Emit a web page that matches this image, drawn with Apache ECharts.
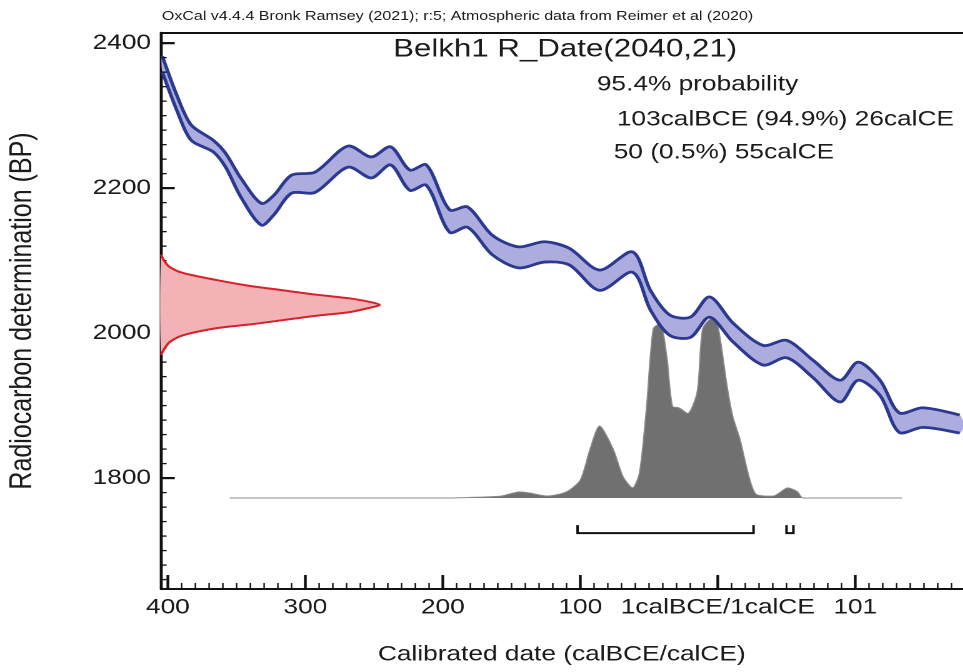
<!DOCTYPE html>
<html>
<head>
<meta charset="utf-8">
<script src="https://cdn.jsdelivr.net/npm/echarts@6/dist/echarts.min.js"></script>
<style>
html, body { margin: 0; padding: 0; background: #fff; overflow: hidden; }
/* the original plot is stretched sideways, so draw narrow and scale the box */
#chart { width: 770.4px; height: 672px; transform: scaleX(1.25); transform-origin: 0 0; }
</style>
</head>
<body>
<div id="chart"></div>
<script>
// x = years from the 1calBCE/1calCE boundary (negative = BCE)
const calYears = [-404, -393, -383, -367, -358, -347, -332, -323, -310, -293, -269, -252, -238, -224, -212, -195, -182, -164, -145, -126, -108, -86, -62, -49, -35, -20, -6, 11, 33, 50, 69, 89, 102, 118, 132, 149, 176];
const calUpper = [2382, 2326, 2287, 2266, 2248, 2214, 2179, 2190, 2218, 2222, 2258, 2243, 2257, 2225, 2232, 2170, 2174, 2135, 2119, 2126, 2117, 2087, 2112, 2059, 2025, 2022, 2050, 2014, 1983, 1990, 1963, 1935, 1960, 1935, 1890, 1897, 1887];
const calLower = [2360, 2305, 2266, 2250, 2229, 2188, 2149, 2163, 2193, 2194, 2229, 2214, 2232, 2197, 2204, 2139, 2146, 2108, 2090, 2098, 2094, 2059, 2084, 2032, 1997, 1994, 2022, 1988, 1956, 1966, 1939, 1905, 1935, 1914, 1863, 1870, 1862];

// radiocarbon date 2040±21 drawn off the y axis (width in years)
const dateBP    = [2108, 2098, 2091, 2083, 2073, 2065, 2059, 2053, 2048, 2043, 2039, 2035, 2029, 2024, 2018, 2012, 2007, 1997, 1988, 1980, 1970];
const dateWidth = [0, 3, 6.5, 16, 41, 65, 89, 113, 137, 152, 159, 152, 137, 113, 89, 65, 41, 16, 6.5, 3, 0];

// calibrated probability (relative)
const probYears  = [-355, -195, -173, -158, -144, -137, -124, -110, -100, -93, -86, -76, -69, -62, -57, -52, -47, -42, -37, -33, -28, -22, -15, -11, -4, 0, 7, 11, 16, 23, 28, 40, 51, 58, 62, 134];
const probValues = [0, 0, 0.005, 0.01, 0.034, 0.028, 0.011, 0.034, 0.10, 0.27, 0.40, 0.27, 0.12, 0.056, 0.14, 0.49, 0.94, 0.97, 0.78, 0.51, 0.50, 0.47, 0.59, 0.94, 1.0, 0.96, 0.61, 0.45, 0.33, 0.11, 0.02, 0.01, 0.056, 0.034, 0, 0];

// 95.4% ranges
const hpdRanges = [[-102, 26], [50, 55]];
const hpdLevel = 1724;

const xMin = -405, xMax = 178;
const yMin = 1647, yMax = 2414;
const xTicks = [-400, -300, -200, -100, 0, 100];
const yTicks = [1800, 2000, 2200, 2400];
const xMinorTicks = [];
for (let v = -400; v <= 170; v += 10) xMinorTicks.push(v);
const yMinorTicks = [];
for (let v = 1660; v <= 2400; v += 20) yMinorTicks.push(v);

const headerText = 'OxCal v4.4.4 Bronk Ramsey (2021); r:5; Atmospheric data from Reimer et al (2020)';
const titleText = 'Belkh1 R_Date(2040,21)';
const rangeLines = ['95.4% probability', '103calBCE (94.9%) 26calCE', '50 (0.5%) 55calCE'];

const FONT = 'Liberation Sans, Arial, sans-serif';
const INK = '#1b1b1b';
const CURVE = '#2b3a90';

function xLabel(v) {
    if (v < 0) return String(-v);
    if (v === 0) return '1calBCE/1calCE';
    return String(v + 1);
}

// inward axis ticks, placed through the axes (major ones longer and heavier)
function tickElements(api) {
    const out = [];
    xMinorTicks.forEach(v => {
        const p = api.coord([v, yMin]);
        const major = xTicks.indexOf(v) >= 0;
        out.push({
            type: 'polyline',
            shape: { points: [[p[0], p[1] - 1], [p[0], p[1] - (major ? 14 : 6)]] },
            style: { stroke: '#111', lineWidth: major ? 2.2 : 1.2, fill: null }
        });
    });
    yMinorTicks.forEach(v => {
        const p = api.coord([xMin, v]);
        const major = yTicks.indexOf(v) >= 0;
        out.push({
            type: 'polyline',
            shape: { points: [[p[0] + 1, p[1]], [p[0] + (major ? 11 : 4.5), p[1]]] },
            style: { stroke: '#111', lineWidth: major ? 2.2 : 1.3, fill: null }
        });
    });
    return out;
}

function renderCurve(params, api) {
    const top = calYears.map((x, i) => api.coord([x, calUpper[i]]));
    const bottom = calYears.map((x, i) => api.coord([x, calLower[i]]));
    return {
        type: 'group',
        children: [
            { type: 'polygon', shape: { points: top.concat(bottom.slice().reverse()), smooth: 0.3 },
              style: { fill: '#acacdf' } },
            { type: 'polyline', shape: { points: top, smooth: 0.3 },
              style: { stroke: CURVE, lineWidth: 2.8, fill: null } },
            { type: 'polyline', shape: { points: bottom, smooth: 0.3 },
              style: { stroke: CURVE, lineWidth: 2.8, fill: null } }
        ].concat(tickElements(api))
    };
}

function renderDate(params, api) {
    const edge = dateBP.map((bp, i) => api.coord([xMin + dateWidth[i], bp]));
    return {
        type: 'group',
        children: [
            { type: 'polygon', shape: { points: edge, smooth: 0.3 }, style: { fill: '#f3b2b6' } },
            { type: 'polyline', shape: { points: edge, smooth: 0.3 },
              style: { stroke: '#d6202a', lineWidth: 2, fill: null } }
        ]
    };
}

function renderRange(params, api) {
    const a = api.coord([api.value(0), api.value(2)]);
    const b = api.coord([api.value(1), api.value(2)]);
    return {
        type: 'polyline',
        shape: { points: [[a[0], a[1] - 8], a, b, [b[0], b[1] - 8]] },
        style: { stroke: '#111', lineWidth: 2, fill: null }
    };
}

const chart = echarts.init(document.getElementById('chart'), null, { renderer: 'canvas', devicePixelRatio: 2 });

const titles = [
    { text: headerText, left: 129.5, top: 10, size: 12.8 },
    { text: titleText, left: 314.5, top: 37, size: 25 },
    { text: rangeLines[0], left: 477.5, top: 74, size: 21 },
    { text: rangeLines[1], left: 493.5, top: 109, size: 21 },
    { text: rangeLines[2], left: 491, top: 142, size: 21 }
].map(t => ({
    text: t.text, left: t.left, top: t.top, padding: 0,
    textStyle: { fontSize: t.size, fontWeight: 'normal', color: INK, fontFamily: FONT }
}));

const option = {
    animation: false,
    backgroundColor: '#fff',
    title: titles,
    grid: { left: 128.8, right: 0, top: 33, bottom: 83, outerBoundsMode: 'none' },
    xAxis: [
        {
            type: 'value', min: xMin, max: xMax, position: 'bottom',
            axisLine: { show: true, onZero: false, lineStyle: { color: '#111', width: 2 } },
            axisTick: { show: false },
            axisLabel: { customValues: xTicks, formatter: xLabel, fontSize: 21, color: INK, fontFamily: FONT, margin: 8 },
            splitLine: { show: false },
            name: 'Calibrated date (calBCE/calCE)', nameLocation: 'middle', nameGap: 55,
            nameTextStyle: { fontSize: 21, color: INK, fontFamily: FONT }
        },
        {
            type: 'value', min: xMin, max: xMax, position: 'top',
            axisLine: { show: true, onZero: false, lineStyle: { color: '#111', width: 2 } },
            axisTick: { show: false }, axisLabel: { show: false }, splitLine: { show: false }
        }
    ],
    yAxis: [
        {
            type: 'value', min: yMin, max: yMax, position: 'left',
            axisLine: { show: true, onZero: false, lineStyle: { color: '#111', width: 2.4 } },
            axisTick: { show: false },
            axisLabel: { customValues: yTicks, formatter: v => String(v), fontSize: 21, color: INK, fontFamily: FONT, margin: 8 },
            splitLine: { show: false },
            name: 'Radiocarbon determination (BP)', nameLocation: 'middle', nameGap: 98,
            nameTextStyle: { fontSize: 25, color: INK, fontFamily: FONT }
        },
        {
            type: 'value', min: -0.5058, max: 2.5836, show: false, position: 'right',
            axisLine: { onZero: false }
        }
    ],
    series: [
        {
            name: 'calibrated', type: 'line', xAxisIndex: 0, yAxisIndex: 1, z: 2,
            data: probYears.map((x, i) => [x, probValues[i]]),
            symbol: 'none', smooth: 0.25,
            lineStyle: { color: '#8c8c8c', width: 1 },
            areaStyle: { color: '#707070', opacity: 1 }
        },
        {
            name: 'curve', type: 'custom', z: 3,
            data: [[calYears[0], calUpper[0]]],
            renderItem: renderCurve
        },
        {
            name: 'date', type: 'custom', z: 3,
            data: [[xMin, dateBP[0]]],
            renderItem: renderDate
        },
        {
            name: 'ranges', type: 'custom', z: 3,
            encode: { x: [0, 1], y: 2 },
            data: hpdRanges.map(r => [r[0], r[1], hpdLevel]),
            renderItem: renderRange
        }
    ]
};

chart.setOption(option);
</script>
</body>
</html>
